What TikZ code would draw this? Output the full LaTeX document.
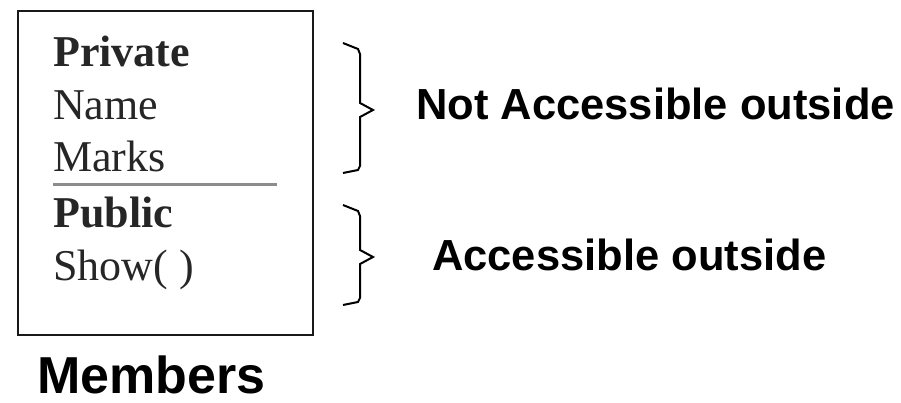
\documentclass[tikz,border=0pt]{standalone}
\usepackage{fontspec}
\setmainfont{Liberation Serif}
\newfontfamily\labelfont{Liberation Sans}
\begin{document}
\begin{tikzpicture}[x=1pt,y=-1pt,
  member/.style={anchor=base west,inner sep=0pt,font=\fontsize{44}{44}\selectfont,text=black!85},
  memberhead/.style={member,font=\fontsize{44}{44}\selectfont\bfseries},
  sidelabel/.style={anchor=base west,inner sep=0pt,font=\labelfont\bfseries\fontsize{43.5}{43.5}\selectfont},
  bracepath/.style={line width=2pt,line join=miter},
  classbox/.style={draw=black!90,line width=2.5pt}]
\useasboundingbox (0,0) rectangle (901,403);
% class box
\draw[classbox] (18,11) rectangle (313,335);
\node[memberhead] (priv) at (53,67) {Private};
\node[member] (name) at (53,120) {Name};
\node[member] (marks) at (53,172) {Marks};
\coordinate (sepL) at (53,185);
\coordinate (sepR) at (277,185);
\draw[black!45,line width=3pt] (sepL) -- (sepR);
\node[memberhead] (pub) at (53,228) {Public};
\node[member] (show) at (53,280) {Show( )};
\node[anchor=base west,inner sep=0pt,text depth=0pt,font=\labelfont\bfseries\fontsize{52}{52}\selectfont] (members) at (37,393) {Members};
% braces
\coordinate (b1t) at (343,43);
\coordinate (b1m) at (373,110);
\coordinate (b1b) at (343,173);
\draw[bracepath] (b1t) -- (358,49) -- (360,54) -- (360,103) -- (b1m) -- (360,117) -- (360,166) -- (358,170) -- (b1b);
\coordinate (b2t) at (343,205);
\coordinate (b2m) at (373,257);
\coordinate (b2b) at (343,305);
\draw[bracepath] (b2t) -- (358,211) -- (360,216) -- (360,250) -- (b2m) -- (360,264) -- (360,298) -- (358,302) -- (b2b);
% labels
\node[sidelabel] (notacc) at (416,120) {Not Accessible outside};
\node[sidelabel] (acc) at (432,270) {Accessible outside};
\end{tikzpicture}
\end{document}
